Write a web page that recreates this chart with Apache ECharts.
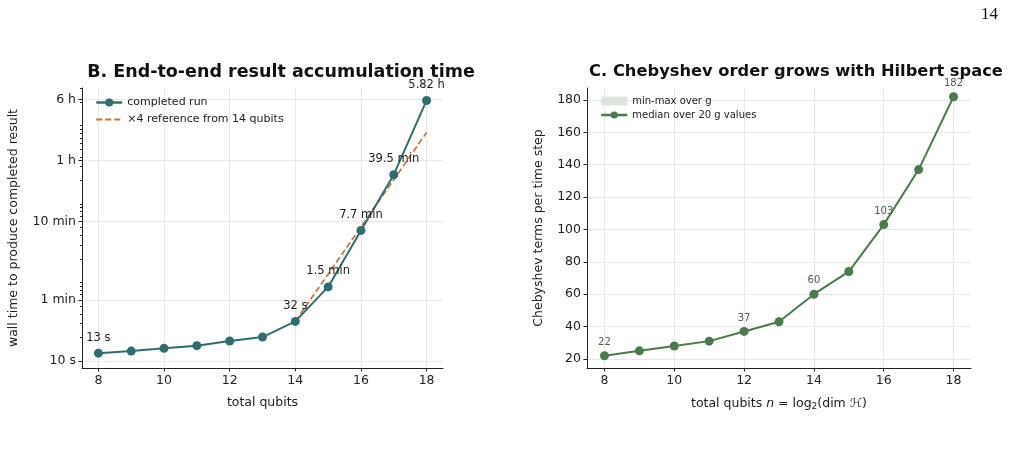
<!DOCTYPE html>
<html>
<head>
<meta charset="utf-8">
<script src="https://cdn.jsdelivr.net/npm/echarts@6/dist/echarts.min.js"></script>
<style>
  html, body { margin: 0; padding: 0; background: #fff; }
  #chart { width: 1018px; height: 450px; }
</style>
</head>
<body>
<div id="chart"></div>
<script>
  // panel B: wall time (seconds) per total qubits
  const qubits = [8, 9, 10, 11, 12, 13, 14, 15, 16, 17, 18]
  const wallSeconds = [12.6, 13.4, 14.5, 15.7, 18.0, 20.2, 32, 88, 462, 2370, 20952]
  const refQubits = [14, 15, 16, 17, 18]
  const refSeconds = [32, 128, 512, 2048, 8192]
  const labelledB = [0, 6, 7, 8, 9, 10]
  const yTicksB = [10, 60, 600, 3600, 21600]
  const yTickNamesB = ['10 s', '1 min', '10 min', '1 h', '6 h']
  const minorTicksB = [20, 30, 40, 50, 70, 80, 90, 100, 200, 300, 400, 500, 700, 800, 900, 1000,
    2000, 3000, 4000, 5000, 6000, 7000, 8000, 9000, 10000, 20000, 30000]

  // panel C: Chebyshev terms per time step
  const chebMedian = [22, 25, 28, 31, 37, 43, 60, 74, 103, 137, 182]
  const labelledC = [0, 4, 6, 8, 10]
  const yTicksC = [20, 40, 60, 80, 100, 120, 140, 160, 180]
  const xTicks = [8, 10, 12, 14, 16, 18]

  const teal = '#2e6e72'
  const orange = '#c8732f'
  const green = '#4b7b4a'
  const font = 'DejaVu Sans'

  function fmtTime (s) {
    if (s < 60) return Math.round(s) + ' s'
    if (s < 3600) return (s / 60).toFixed(1) + ' min'
    return (s / 3600).toFixed(2) + ' h'
  }

  const axisLine = {show: true, lineStyle: {color: '#222', width: 1}}
  const splitLine = {show: true, lineStyle: {color: '#e8e8e8', width: 1}}

  function xAxisFor (gridIndex, name) {
    return {
      type: 'value', gridIndex: gridIndex, min: 7.5, max: 18.5,
      name: name, nameLocation: 'middle', nameGap: 28,
      nameTextStyle: {color: '#222', fontSize: 12.5, fontFamily: font},
      axisLine: axisLine,
      axisTick: {show: true, length: 3.5, customValues: xTicks, lineStyle: {color: '#222'}},
      axisLabel: {customValues: xTicks, color: '#222', fontSize: 12.5, fontFamily: font, margin: 6},
      splitLine: splitLine
    }
  }

  const chart = echarts.init(document.getElementById('chart'))
  const option = {
    animation: false,
    textStyle: {fontFamily: font},
    title: [
      {text: 'B. End-to-end result accumulation time', left: 276, top: 58, textAlign: 'center',
        textStyle: {fontSize: 17.5, fontWeight: 'bold', color: '#111', fontFamily: font}},
      {text: 'C. Chebyshev order grows with Hilbert space', left: 791, top: 59, textAlign: 'center',
        textStyle: {fontSize: 16.3, fontWeight: 'bold', color: '#111', fontFamily: font}}
    ],
    graphic: [
      {type: 'text', left: 981, top: 6,
        style: {text: '14', font: '17px "Liberation Serif"', fill: '#111'}}
    ],
    legend: [
      {
        left: 90, top: 92, orient: 'vertical', itemGap: 6, itemWidth: 26, itemHeight: 10,
        textStyle: {fontSize: 11, color: '#222', fontFamily: font},
        data: [
          {name: 'completed run', lineStyle: {width: 2.5}},
          {name: '×4 reference from 14 qubits', itemStyle: {opacity: 0}, lineStyle: {width: 2}}
        ]
      },
      {
        left: 595, top: 91, orient: 'vertical', itemGap: 4, itemWidth: 26, itemHeight: 9,
        textStyle: {fontSize: 10, color: '#222', fontFamily: font},
        data: [
          {name: 'min-max over g', icon: 'rect'},
          {name: 'median over 20 g values', lineStyle: {width: 2.5}}
        ]
      }
    ],
    grid: [
      {left: 82, right: 575, top: 88, bottom: 82},
      {left: 587, right: 47, top: 88, bottom: 82}
    ],
    xAxis: [
      xAxisFor(0, 'total qubits'),
      Object.assign(xAxisFor(1, '{t|total qubits }{i|n}{t| = log}{s|2}{t|(dim }{i|ℋ}{t|)}'), {
        nameTextStyle: {
          color: '#222', fontSize: 12.5, fontFamily: font,
          rich: {
            t: {fontSize: 12.5, color: '#222', fontFamily: font},
            i: {fontSize: 12.5, color: '#222', fontFamily: font, fontStyle: 'italic'},
            s: {fontSize: 9, color: '#222', fontFamily: font, verticalAlign: 'bottom', padding: [6, 0, 0, 0]}
          }
        }
      })
    ],
    yAxis: [
      {
        type: 'log', logBase: 10, gridIndex: 0, min: 8.15, max: 30200,
        name: 'wall time to produce completed result', nameLocation: 'middle', nameGap: 62,
        nameTextStyle: {color: '#222', fontSize: 12.5, fontFamily: font},
        axisLine: axisLine,
        axisTick: {show: true, length: 3.5, customValues: yTicksB, lineStyle: {color: '#222'}},
        axisLabel: {
          customValues: yTicksB, color: '#222', fontSize: 12.5, fontFamily: font, margin: 6,
          formatter: function (v) {
            const i = yTicksB.findIndex(t => Math.abs(t - v) / t < 1e-6)
            return i >= 0 ? yTickNamesB[i] : ''
          }
        },
        splitLine: splitLine
      },
      {
        type: 'log', logBase: 10, gridIndex: 0, min: 8.15, max: 30200, position: 'left',
        axisLine: {show: false},
        axisTick: {show: true, length: 2, customValues: minorTicksB, lineStyle: {color: '#222'}},
        axisLabel: {show: false},
        splitLine: {show: false}
      },
      {
        type: 'value', gridIndex: 1, min: 14.4, max: 187.4,
        name: 'Chebyshev terms per time step', nameLocation: 'middle', nameGap: 42,
        nameTextStyle: {color: '#222', fontSize: 12.5, fontFamily: font},
        axisLine: axisLine,
        axisTick: {show: true, length: 3.5, customValues: yTicksC, lineStyle: {color: '#222'}},
        axisLabel: {customValues: yTicksC, color: '#222', fontSize: 12.5, fontFamily: font, margin: 6},
        splitLine: splitLine
      }
    ],
    series: [
      {
        name: 'completed run', type: 'line', xAxisIndex: 0, yAxisIndex: 0,
        data: qubits.map((q, i) => [q, wallSeconds[i]]),
        symbol: 'circle', symbolSize: 9, z: 3,
        itemStyle: {color: teal},
        lineStyle: {color: teal, width: 2},
        label: {
          show: true, position: 'top', distance: 5, fontSize: 11.5, color: '#222', fontFamily: font,
          formatter: function (p) {
            return labelledB.indexOf(p.dataIndex) >= 0 ? fmtTime(p.value[1]) : ''
          }
        }
      },
      {
        name: '×4 reference from 14 qubits', type: 'line', xAxisIndex: 0, yAxisIndex: 0,
        data: refQubits.map((q, i) => [q, refSeconds[i]]),
        symbol: 'none', z: 2,
        itemStyle: {color: orange},
        lineStyle: {color: orange, width: 1.7, type: [6, 3]}
      },
      {
        name: 'min-max over g', type: 'line', xAxisIndex: 1, yAxisIndex: 2,
        data: [], symbol: 'none',
        itemStyle: {color: '#dbe6da'},
        lineStyle: {width: 0},
        areaStyle: {color: '#dbe6da'}
      },
      {
        name: 'median over 20 g values', type: 'line', xAxisIndex: 1, yAxisIndex: 2,
        data: qubits.map((q, i) => [q, chebMedian[i]]),
        symbol: 'circle', symbolSize: 9, z: 3,
        itemStyle: {color: green},
        lineStyle: {color: green, width: 2},
        label: {
          show: true, position: 'top', distance: 4, fontSize: 10, color: '#4a5e4a', fontFamily: font,
          formatter: function (p) {
            return labelledC.indexOf(p.dataIndex) >= 0 ? String(p.value[1]) : ''
          }
        }
      }
    ]
  }
  chart.setOption(option)
</script>
</body>
</html>
